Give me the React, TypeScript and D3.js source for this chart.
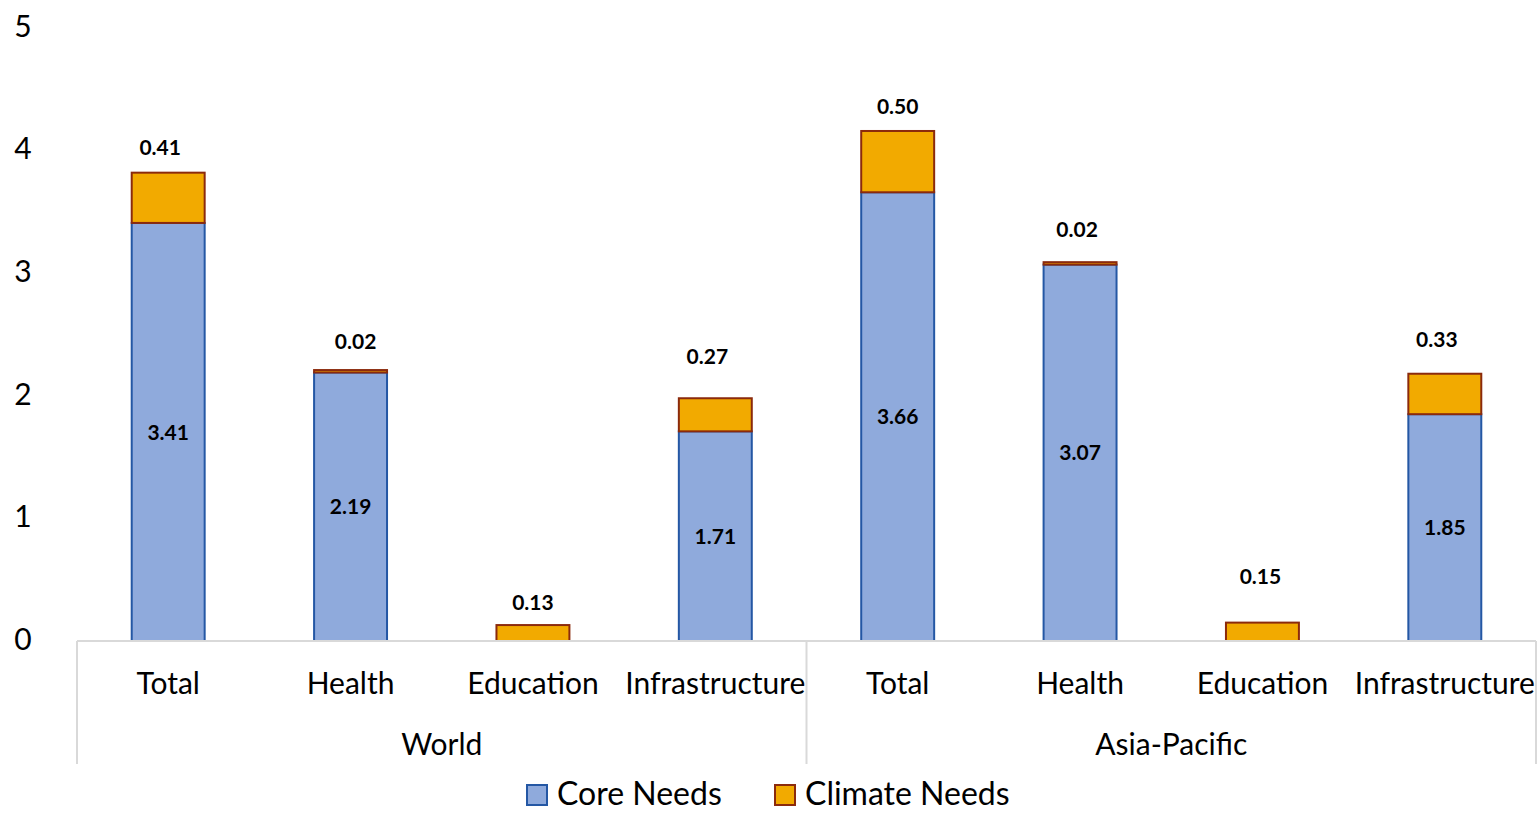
import React from "react";
import * as d3 from "d3";

const groups = ["World", "Asia-Pacific"];
const sectors = ["Total", "Health", "Education", "Infrastructure"];
const coreNeeds = [3.41, 2.19, 0, 1.71, 3.66, 3.07, 0, 1.85];
const climateNeeds = [0.41, 0.02, 0.13, 0.27, 0.5, 0.02, 0.15, 0.33];
const yTicks = [0, 1, 2, 3, 4, 5];
const seriesNames = ["Core Needs", "Climate Needs"];

// hand-placed nudges for the climate value labels (px, relative to bar top centre)
const climateLabelDx = [-8, 5, 0, -8, 0, -3, -2, -8];
const climateLabelDy = [-25, -29, -23, -42, -25, -33, -46, -34];

const W = 1537;
const H = 814;
const FONT = "Lato, 'Open Sans', sans-serif";
const CORE_FILL = "#8FAADC";
const CORE_STROKE = "#2457A4";
const CLIM_FILL = "#F2AA00";
const CLIM_STROKE = "#8B2A0C";
const AXIS = "#D9D9D9";

export default function App() {
  const left = 77;
  const right = 1536;
  const y0 = 641;
  const yTop = 28;

  const keys = groups.flatMap((g) => sectors.map((s) => `${g}|${s}`));
  const x = d3.scaleBand<string>().domain(keys).range([left, right]).paddingInner(0.6).paddingOuter(0.3);
  const band = d3.scaleBand<string>().domain(keys).range([left, right]);
  const y = d3.scaleLinear().domain([0, 5]).range([y0, yTop]);

  const rows = keys.map((k, i) => ({ key: k, core: coreNeeds[i], climate: climateNeeds[i] }));
  const stacked = d3.stack<any>().keys(["core", "climate"])(rows);

  const groupWidth = (right - left) / groups.length;

  return (
    <svg width={W} height={H} style={{ position: "absolute", left: 0, top: 0 }} fontFamily={FONT}>
      <rect width={W} height={H} fill="#fff" />
      {/* y tick labels */}
      {yTicks.map((t) => (
        <text key={t} x={23} y={y(t) - 2} dy="0.36em" textAnchor="middle" fontSize={30} fill="#000">
          {t}
        </text>
      ))}
      {/* stacked bars */}
      {stacked.map((layer, li) =>
        layer.map((d, i) => {
          const v = d[1] - d[0];
          if (v <= 0) return null;
          return (
            <rect
              key={`${li}-${i}`}
              x={x(keys[i])!}
              width={x.bandwidth()}
              y={y(d[1])}
              height={y(d[0]) - y(d[1])}
              fill={li === 0 ? CORE_FILL : CLIM_FILL}
              stroke={li === 0 ? CORE_STROKE : CLIM_STROKE}
              strokeWidth={2}
            />
          );
        })
      )}
      {/* axis line and group dividers */}
      <line x1={left} x2={right} y1={y0} y2={y0} stroke={AXIS} strokeWidth={2} />
      {d3.range(groups.length + 1).map((i) => (
        <line key={i} x1={left + i * groupWidth} x2={left + i * groupWidth} y1={y0} y2={764} stroke={AXIS} strokeWidth={2} />
      ))}
      {/* core value labels */}
      {rows.map((r, i) =>
        r.core > 0 ? (
          <text
            key={`c${i}`}
            x={band(r.key)! + band.bandwidth() / 2}
            y={y(r.core / 2)}
            dy="0.36em"
            textAnchor="middle"
            fontSize={21}
            fontWeight="bold"
            fill="#000"
          >
            {r.core.toFixed(2)}
          </text>
        ) : null
      )}
      {/* climate value labels */}
      {rows.map((r, i) => (
        <text
          key={`k${i}`}
          x={band(r.key)! + band.bandwidth() / 2 + climateLabelDx[i]}
          y={y(r.core + r.climate) + climateLabelDy[i]}
          dy="0.36em"
          textAnchor="middle"
          fontSize={21}
          fontWeight="bold"
          fill="#000"
        >
          {r.climate.toFixed(2)}
        </text>
      ))}
      {/* sector labels */}
      {keys.map((k) => (
        <text key={k} x={band(k)! + band.bandwidth() / 2} y={683} dy="0.36em" textAnchor="middle" fontSize={30} fill="#000">
          {k.split("|")[1]}
        </text>
      ))}
      {/* group labels */}
      {groups.map((g, i) => (
        <text key={g} x={left + (i + 0.5) * groupWidth} y={744} dy="0.36em" textAnchor="middle" fontSize={30} fill="#000">
          {g}
        </text>
      ))}
      {/* legend */}
      {seriesNames.map((s, i) => {
        const lx = i === 0 ? 527 : 775;
        return (
          <g key={s}>
            <rect x={lx} y={785} width={20} height={20} fill={i === 0 ? CORE_FILL : CLIM_FILL} stroke={i === 0 ? CORE_STROKE : CLIM_STROKE} strokeWidth={2} />
            <text x={lx + 30} y={793} dy="0.36em" fontSize={32} fill="#000">
              {s}
            </text>
          </g>
        );
      })}
    </svg>
  );
}
